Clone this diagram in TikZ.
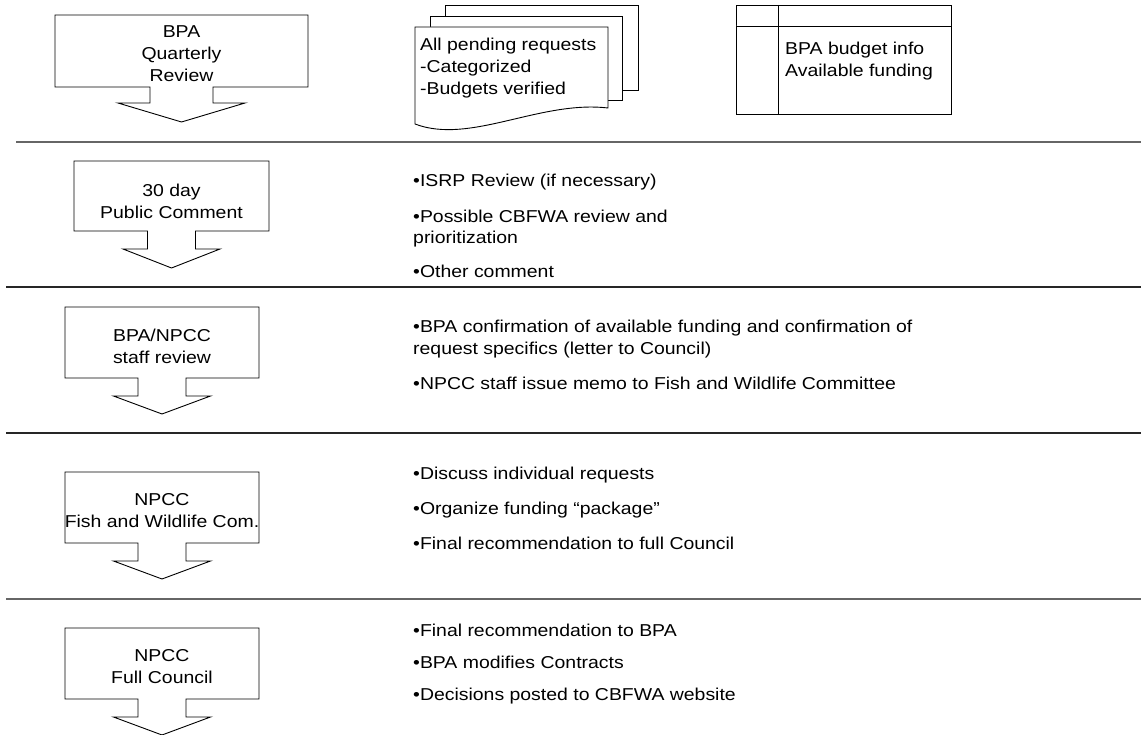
\documentclass[tikz,border=0pt]{standalone}
\usepackage{fontspec}
\setmainfont{Liberation Sans}[FakeStretch=1.13]
\usetikzlibrary{positioning}

% down arrow callout: centre x, top y, half width, height, stem half width, head half width, stem length, head length
\newcommand{\downcallout}[8]{%
	\draw[callout] (#1-#3,#2) -- (#1+#3,#2) -- (#1+#3,#2+#4) -- (#1+#5,#2+#4)
		-- (#1+#5,#2+#4+#7) -- (#1+#6,#2+#4+#7) -- (#1,#2+#4+#7+#8)
		-- (#1-#6,#2+#4+#7) -- (#1-#5,#2+#4+#7) -- (#1-#5,#2+#4) -- (#1-#3,#2+#4) -- cycle;}

\tikzset{
	callout/.style={draw=black, line width=0.9pt, fill=white, line join=miter},
	sheet/.style={draw=black, line width=0.9pt, fill=white},
	sepline/.style={line width=1.4pt, draw=#1},
	boxtext/.style={align=center, inner sep=0pt},
	sidetext/.style={align=left, anchor=west, inner sep=0pt},
	rowtext/.style={anchor=base west, inner sep=0pt},
}

\begin{document}
\begin{tikzpicture}[x=1pt, y=-1pt, font=\fontsize{17.2}{22}\selectfont]
	\useasboundingbox (0,0) rectangle (1141,735);

	% top row
	\downcallout{181.5}{15}{126.5}{72}{31.5}{63.5}{16}{19}
	\node[boxtext] (qtr) at (181.5,54) {BPA\\Quarterly\\Review};

	\draw[sheet] (445,5) rectangle (638,90);
	\draw[sheet] (430,16) rectangle (622,100);
	\draw[sheet] (415,27) -- (608,27) -- (608,108) .. controls (540,100) and (470,145) .. (415,124) -- cycle;
	\node[sidetext] (pending) at (420,68) {All pending requests\\-Categorized\\-Budgets verified};

	\draw[sheet] (736,5) rectangle (951,114);
	\draw[sheet] (778,5) -- (778,114) (736,26) -- (951,26);
	\node[sidetext] (budget) at (785,61) {BPA budget info\\Available funding};

	\draw[sepline=black!60] (16,142) -- (1141,142);
	\draw[sepline=black!85] (6,287) -- (1141,287);
	\draw[sepline=black!85] (6,433) -- (1141,433);
	\draw[sepline=black!60] (6,599) -- (1141,599);

	% public comment
	\downcallout{171.5}{161}{97.5}{70}{24}{48.5}{18}{19}
	\node[boxtext] (pub) at (171.5,201) {30 day\\Public Comment};
	\node[rowtext] (r2a) at (413,187) {•ISRP Review (if necessary)};
	\node[below=36pt of r2a.base west, rowtext] (r2b) {•Possible CBFWA review and};
	\node[below=21pt of r2b.base west, rowtext] (r2c) {prioritization};
	\node[below=34pt of r2c.base west, rowtext] (r2d) {•Other comment};

	% staff review
	\downcallout{162}{307}{97}{71}{24}{48.5}{18}{18}
	\node[boxtext] (staff) at (162,346) {BPA/NPCC\\staff review};
	\node[rowtext] (r3a) at (413,333) {•BPA confirmation of available funding and confirmation of};
	\node[below=22pt of r3a.base west, rowtext] (r3b) {request specifics (letter to Council)};
	\node[below=34pt of r3b.base west, rowtext] (r3c) {•NPCC staff issue memo to Fish and Wildlife Committee};

	% committee
	\downcallout{162}{472}{97}{71}{24}{48.5}{18}{18}
	\node[boxtext] (fwc) at (162,511) {NPCC\\Fish and Wildlife Com.};
	\node[rowtext] (r4a) at (413,479) {•Discuss individual requests};
	\node[below=35pt of r4a.base west, rowtext] (r4b) {•Organize funding “package”};
	\node[below=35pt of r4b.base west, rowtext] (r4c) {•Final recommendation to full Council};

	% full council
	\downcallout{162}{628}{97}{71}{24}{48.5}{18}{18}
	\node[boxtext] (council) at (162,667) {NPCC\\Full Council};
	\node[rowtext] (r5a) at (413,636) {•Final recommendation to BPA};
	\node[below=32pt of r5a.base west, rowtext] (r5b) {•BPA modifies Contracts};
	\node[below=32pt of r5b.base west, rowtext] (r5c) {•Decisions posted to CBFWA website};
\end{tikzpicture}
\end{document}
